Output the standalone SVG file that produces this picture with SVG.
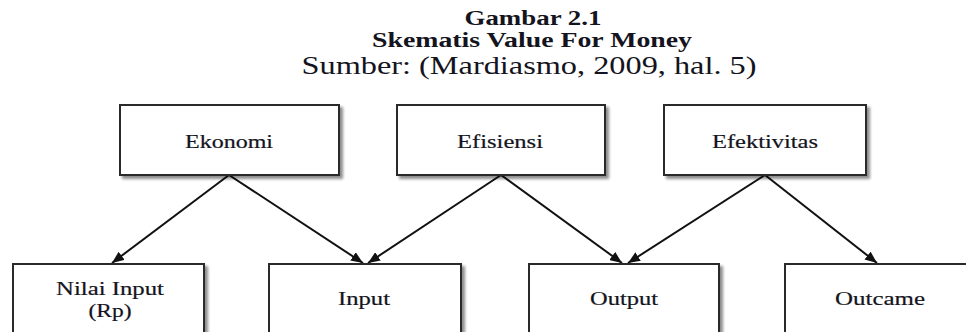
<svg xmlns="http://www.w3.org/2000/svg" width="966" height="332" viewBox="0 0 966 332">
<style>
  .t { font-family: "Liberation Serif", "Times New Roman", serif; fill: #141420; }
  .title { font-weight: bold; font-size: 20px; }
  .src { font-size: 25px; }
  .lbl { font-size: 19px; stroke: #141420; stroke-width: 0.2; }
  .box { fill: #fff; stroke: #2a2a2a; stroke-width: 2; filter: url(#sh); }
  .edge { stroke: #111; stroke-width: 2; fill: none; marker-end: url(#ah); }
</style>
<defs>
  <filter id="sh" x="-10%" y="-10%" width="130%" height="140%">
    <feGaussianBlur in="SourceAlpha" stdDeviation="1.5"/>
    <feOffset dx="3" dy="3" result="b"/>
    <feComponentTransfer><feFuncA type="linear" slope="0.45"/></feComponentTransfer>
    <feMerge><feMergeNode/><feMergeNode in="SourceGraphic"/></feMerge>
  </filter>
  <marker id="ah" viewBox="0 0 12 10" refX="12" refY="5" markerWidth="12" markerHeight="10" markerUnits="userSpaceOnUse" orient="auto">
    <path d="M0,0 L12,5 L0,10 Z" fill="#111"/>
  </marker>
</defs>

<g id="title">
  <text class="t title" x="533" y="25" text-anchor="middle" textLength="137" lengthAdjust="spacingAndGlyphs">Gambar 2.1</text>
  <text class="t title" x="532" y="47" text-anchor="middle" textLength="320" lengthAdjust="spacingAndGlyphs">Skematis Value For Money</text>
  <text class="t src" x="529" y="74" text-anchor="middle" textLength="455" lengthAdjust="spacingAndGlyphs">Sumber: (Mardiasmo, 2009, hal. 5)</text>
</g>

<g id="connectors">
  <line class="edge" x1="229" y1="175" x2="112" y2="263"/>
  <line class="edge" x1="229" y1="175" x2="363" y2="263"/>
  <line class="edge" x1="501" y1="175" x2="368" y2="263"/>
  <line class="edge" x1="501" y1="175" x2="622" y2="263"/>
  <line class="edge" x1="765" y1="175" x2="628" y2="263"/>
  <line class="edge" x1="765" y1="175" x2="877" y2="263"/>
</g>

<g id="ekonomi">
  <rect class="box" x="120" y="105" width="219" height="70"/>
  <text class="t lbl" x="229" y="148" text-anchor="middle" textLength="88" lengthAdjust="spacingAndGlyphs">Ekonomi</text>
</g>
<g id="efisiensi">
  <rect class="box" x="397" y="105" width="208" height="70"/>
  <text class="t lbl" x="500" y="148" text-anchor="middle" textLength="86" lengthAdjust="spacingAndGlyphs">Efisiensi</text>
</g>
<g id="efektivitas">
  <rect class="box" x="664" y="105" width="202" height="70"/>
  <text class="t lbl" x="765" y="148" text-anchor="middle" textLength="106" lengthAdjust="spacingAndGlyphs">Efektivitas</text>
</g>

<g id="nilai-input">
  <rect class="box" x="13" y="264" width="191" height="80"/>
  <text class="t lbl" x="110" y="295" text-anchor="middle" textLength="108" lengthAdjust="spacingAndGlyphs">Nilai Input</text>
  <text class="t lbl" x="110" y="317" text-anchor="middle" textLength="43" lengthAdjust="spacingAndGlyphs">(Rp)</text>
</g>
<g id="input">
  <rect class="box" x="269" y="264" width="192" height="80"/>
  <text class="t lbl" x="364" y="305" text-anchor="middle" textLength="52" lengthAdjust="spacingAndGlyphs">Input</text>
</g>
<g id="output">
  <rect class="box" x="529" y="264" width="190" height="80"/>
  <text class="t lbl" x="624" y="305" text-anchor="middle" textLength="68" lengthAdjust="spacingAndGlyphs">Output</text>
</g>
<g id="outcame">
  <rect class="box" x="785" y="264" width="195" height="80"/>
  <text class="t lbl" x="880" y="305" text-anchor="middle" textLength="90" lengthAdjust="spacingAndGlyphs">Outcame</text>
</g>
</svg>
